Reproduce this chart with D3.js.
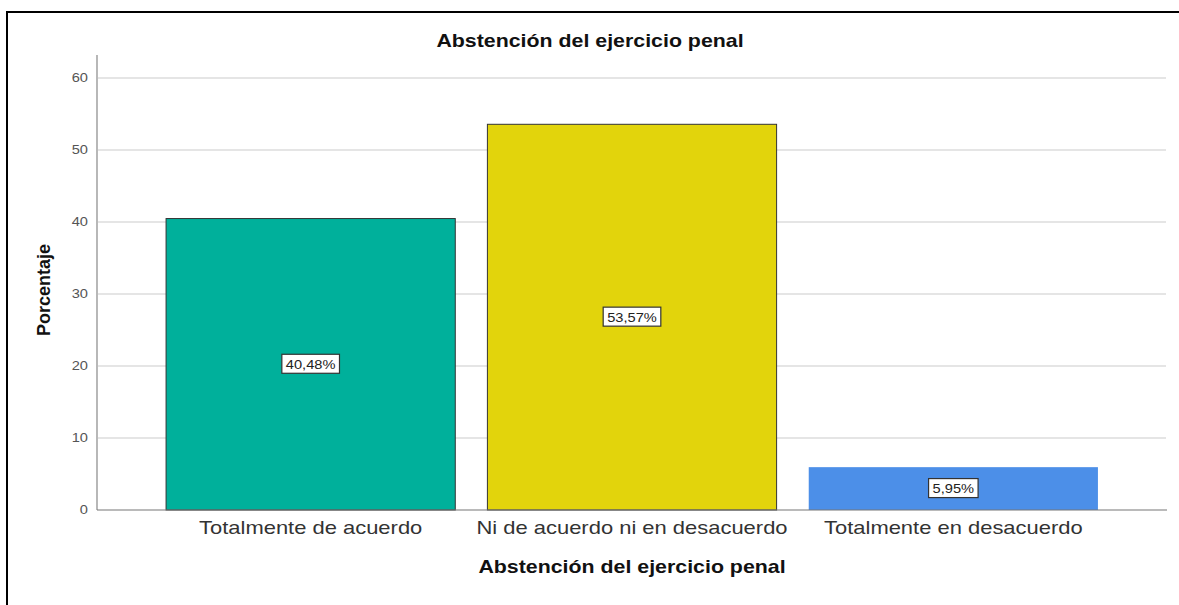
<!DOCTYPE html>
<html><head><meta charset="utf-8">
<script src="https://cdn.jsdelivr.net/npm/d3@7/dist/d3.min.js"></script>
<style>body{margin:0;background:#fff}svg{display:block}</style>
</head><body><svg id="c" width="1179" height="605"></svg>
<script>
const categories = ["Totalmente de acuerdo", "Ni de acuerdo ni en desacuerdo", "Totalmente en desacuerdo"];
const values = [40.48, 53.57, 5.95];
const labels = ["40,48%", "53,57%", "5,95%"];
const colors = ["#00b09b", "#e2d40c", "#4c8fe8"];
const yTicks = [0, 10, 20, 30, 40, 50, 60];
const title = "Abstención del ejercicio penal";
const xTitle = "Abstención del ejercicio penal";
const yTitle = "Porcentaje";

const svg = d3.select("#c");
const font = "Arial, 'Liberation Sans', sans-serif";
const SX = 1.22;

svg.append("rect").attr("x", 7).attr("y", 12).attr("width", 1190).attr("height", 620)
  .attr("fill", "none").attr("stroke", "#000").attr("stroke-width", 2);

const y = d3.scaleLinear().domain([0, 60]).range([510, 78]);
const x = d3.scaleBand().domain(categories).range([150, 1114]).paddingInner(0.1).paddingOuter(0.05);

// gridlines
svg.append("g").selectAll("line").data(yTicks.filter(d => d > 0)).join("line")
  .attr("x1", 98).attr("x2", 1166).attr("y1", d => y(d)).attr("y2", d => y(d))
  .attr("stroke", "#dcdcdc").attr("stroke-width", 1.5);

// y axis
const ya = svg.append("g").attr("transform", "translate(97,0)")
  .call(d3.axisLeft(y).tickValues(yTicks).tickSize(0).tickPadding(9));
ya.select(".domain").remove();
ya.selectAll("text").attr("font-family", font).attr("font-size", 12).attr("fill", "#555")
  .attr("x", -9 / SX).attr("transform", `scale(${SX},1)`);
svg.append("line").attr("x1", 97).attr("x2", 97).attr("y1", 55).attr("y2", 510)
  .attr("stroke", "#888").attr("stroke-width", 1.2);

// bars
svg.append("g").selectAll("rect").data(values).join("rect")
  .attr("x", (d, i) => x(categories[i])).attr("width", x.bandwidth())
  .attr("y", d => y(d)).attr("height", d => y(0) - y(d))
  .attr("fill", (d, i) => colors[i])
  .attr("stroke", (d, i) => i === 2 ? "none" : "#333").attr("stroke-width", 1);

// x axis
const xa = svg.append("g").attr("transform", "translate(0,510)")
  .call(d3.axisBottom(x).tickSize(0).tickPadding(11));
xa.select(".domain").remove();
xa.selectAll("text").attr("font-family", font).attr("font-size", 18).attr("fill", "#333")
  .attr("transform", `scale(${SX},1)`);
svg.append("line").attr("x1", 97).attr("x2", 1167).attr("y1", 510).attr("y2", 510)
  .attr("stroke", "#777").attr("stroke-width", 1.2);

// value labels
const lg = svg.append("g").selectAll("g").data(values).join("g")
  .attr("transform", (d, i) => `translate(${x(categories[i]) + x.bandwidth() / 2},${(y(d) + y(0)) / 2})`);
lg.append("rect").attr("y", -10).attr("height", 19)
  .attr("fill", "#fff").attr("stroke", "#333").attr("stroke-width", 1.2);
lg.append("text").text((d, i) => labels[i]).attr("text-anchor", "middle").attr("y", 4.5)
  .attr("transform", `scale(${SX},1)`)
  .attr("font-family", font).attr("font-size", 12).attr("fill", "#222");
lg.each(function () {
  const t = d3.select(this).select("text").node().getComputedTextLength() * SX;
  d3.select(this).select("rect").attr("x", -t / 2 - 4).attr("width", t + 8);
});

// titles
svg.append("text").text(title).attr("transform", `translate(590,47) scale(${SX},1)`).attr("text-anchor", "middle")
  .attr("font-family", font).attr("font-size", 17.5).attr("font-weight", "bold").attr("fill", "#111");
svg.append("text").text(xTitle).attr("transform", `translate(632,573) scale(${SX},1)`).attr("text-anchor", "middle")
  .attr("font-family", font).attr("font-size", 17.5).attr("font-weight", "bold").attr("fill", "#111");
svg.append("text").text(yTitle).attr("transform", "translate(50,290) rotate(-90)").attr("text-anchor", "middle")
  .attr("font-family", font).attr("font-size", 18).attr("font-weight", "bold").attr("fill", "#111");
</script></body></html>
